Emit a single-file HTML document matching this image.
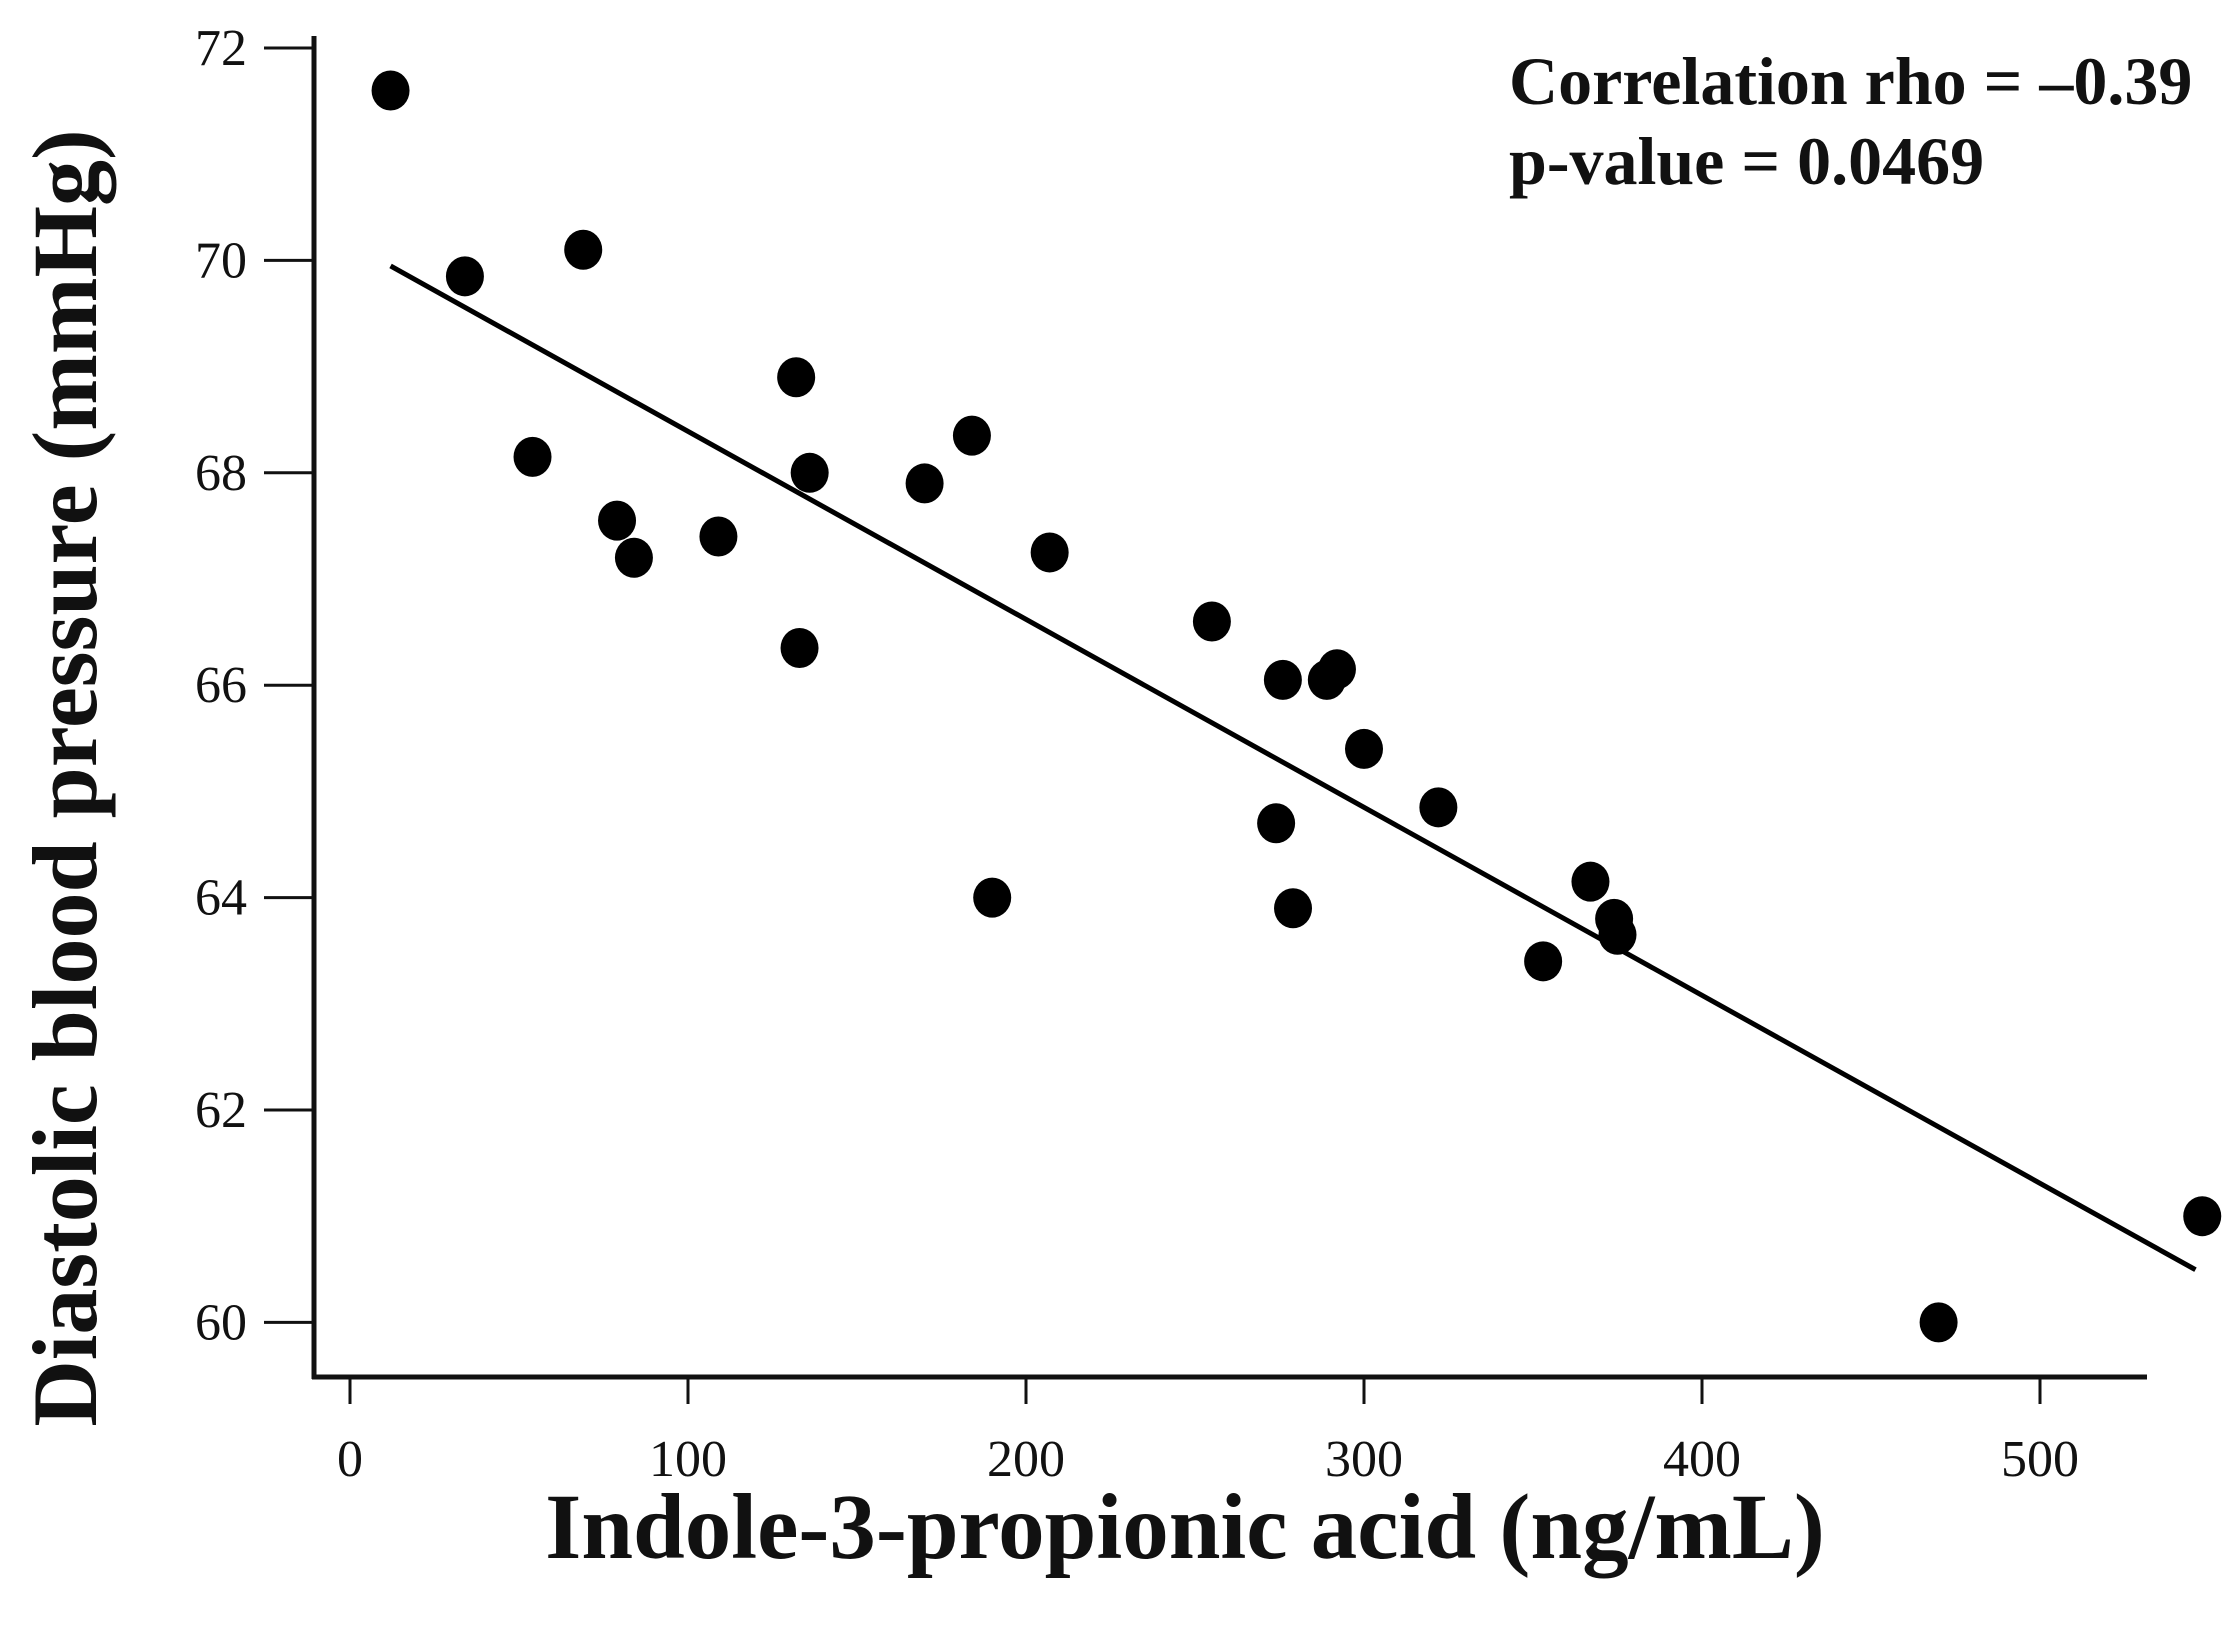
<!DOCTYPE html>
<html><head><meta charset="utf-8"><style>
html,body{margin:0;padding:0;background:#fff;}
svg{display:block;}
</style></head><body>
<svg id="chart" width="2237" height="1637" xmlns="http://www.w3.org/2000/svg"></svg>
<script>
const xTicks=[0,100,200,300,400,500];
const yTicks=[60,62,64,66,68,70,72];
const xVals=[12,34,69,54,79,84,109,132,136,133,170,184,190,207,255,276,274,279,289,292,300,322,353,367,374,375,470,548];
const yVals=[71.6,69.85,70.1,68.15,67.55,67.2,67.4,68.9,68.0,66.35,67.9,68.35,64.0,67.25,66.6,66.05,64.7,63.9,66.05,66.15,65.4,64.85,63.4,64.15,63.8,63.65,60.0,61.0];
const fitIntercept=70.16, fitSlope=-0.0177;
const fitRange=[12,546];

const NS='http://www.w3.org/2000/svg';
const svg=document.getElementById('chart');
const X=v=>350+v*3.38;
const Y=v=>48+(72-v)*106.2;
function mk(tag,attrs,parent){const e=document.createElementNS(NS,tag);for(const k in attrs)e.setAttribute(k,attrs[k]);(parent||svg).appendChild(e);return e;}
const serif='"Liberation Serif", serif';

const ya=mk('line',{x1:314,y1:36,x2:314,y2:1379,stroke:'#111','stroke-width':5});


const xa=mk('line',{x1:312,y1:1377,x2:2147,y2:1377,stroke:'#111','stroke-width':5});



yTicks.forEach(t=>{
  const l=mk('line',{x1:264,x2:314,y1:Y(t),y2:Y(t),stroke:'#111','stroke-width':3});
  
  
  const tx=mk('text',{x:247,y:Y(t)+17,'text-anchor':'end','font-family':serif,'font-size':52,fill:'#111'});
  tx.textContent=t;
  
  
});
xTicks.forEach(t=>{
  const l=mk('line',{x1:X(t),x2:X(t),y1:1377,y2:1404,stroke:'#111','stroke-width':3});
  
  
  const tx=mk('text',{x:X(t),y:1476,'text-anchor':'middle','font-family':serif,'font-size':52,fill:'#111'});
  tx.textContent=t;
  
  
});

const fl=mk('line',{x1:X(fitRange[0]),y1:Y(fitIntercept+fitSlope*fitRange[0]),x2:X(fitRange[1]),y2:Y(fitIntercept+fitSlope*fitRange[1]),stroke:'#000','stroke-width':5});



xVals.forEach((v,i)=>{
  const c=mk('ellipse',{cx:X(v),cy:Y(yVals[i]),rx:19,ry:20,fill:'#000'});
  
  
});

const xt=mk('text',{x:1185,y:1558,'text-anchor':'middle','font-family':serif,'font-size':93,'font-weight':'bold',fill:'#111'});
xt.textContent='Indole-3-propionic acid (ng/mL)';


const yt=mk('text',{x:0,y:0,'text-anchor':'middle','font-family':serif,'font-size':92,'font-weight':'bold',fill:'#111',transform:'translate(96,778) rotate(-90)'});
yt.textContent='Diastolic blood pressure (mmHg)';



const a1=mk('text',{x:1509,y:104,'font-family':serif,'font-size':68,'font-weight':'bold',fill:'#111'});
a1.textContent='Correlation rho = \u20130.39';


const a2=mk('text',{x:1509,y:184,'font-family':serif,'font-size':68,'font-weight':'bold',fill:'#111'});
a2.textContent='p-value = 0.0469';


</script>
</body></html>
